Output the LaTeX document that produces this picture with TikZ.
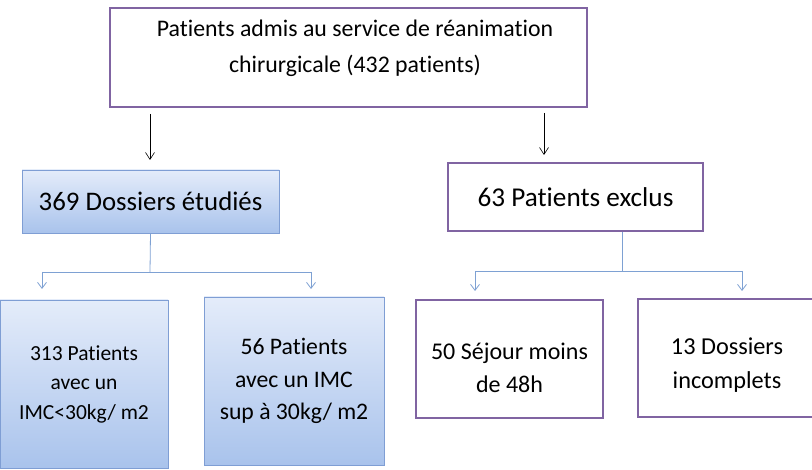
\documentclass[tikz,border=0pt]{standalone}
\usepackage{fontspec}
\setmainfont{Carlito}[Ligatures=NoCommon]
\usetikzlibrary{arrows.meta,shadows}
\definecolor{violetcadre}{HTML}{8064A2}
\definecolor{bleucadre}{HTML}{7F9ED4}
\definecolor{bleuhaut}{HTML}{E4ECFA}
\definecolor{bleubas}{HTML}{A9C3EC}
\definecolor{bleutrait}{HTML}{7EA1D3}
\tikzset{
  boiteviolette/.style={draw=violetcadre, line width=2.8pt, fill=white, align=center, inner sep=0pt},
  boitebleue/.style={draw=bleucadre, line width=0.8pt, top color=bleuhaut, bottom color=bleubas,
    align=center, inner sep=0pt,
    drop shadow={shadow xshift=0pt, shadow yshift=-1.5pt, opacity=.5, fill=black!70}},
  fleche/.style={-{Straight Barb[length=7pt,width=9pt]}, semithick},
  branche/.style={bleutrait, thick},
  flechebleue/.style={branche, -{Straight Barb[length=6pt,width=9pt]}}
}
\begin{document}
\begin{tikzpicture}[x=1pt,y=-1pt]
  \useasboundingbox[fill=white] (0,0) rectangle (812,470);

  % boite du haut
  \node[boiteviolette, minimum width=477pt, minimum height=99pt] (admis) at (348.5,57.5) {};
  \node[align=center, font=\fontsize{23.8}{36}\selectfont] (admistexte) at (355,48.5)
    {Patients admis au service de réanimation\\chirurgicale (432 patients)};

  % deuxieme niveau
  \node[boitebleue, minimum width=257pt, minimum height=63pt, font=\fontsize{26.8}{30}\selectfont]
    (etudies) at (150.5,201.5) {369 Dossiers étudiés};
  \node[boiteviolette, minimum width=255pt, minimum height=68pt, font=\fontsize{27.2}{30}\selectfont]
    (exclus) at (575.5,197) {63 Patients exclus};

  % troisieme niveau
  \node[boitebleue, minimum width=168pt, minimum height=168pt, font=\fontsize{21.5}{29.5}\selectfont]
    (imcbas) at (84,384) {313 Patients\\avec un\\IMC<30kg/ m2};
  \node[boitebleue, minimum width=180pt, minimum height=168pt, font=\fontsize{23.7}{32.5}\selectfont]
    (imchaut) at (294,381) {56 Patients\\avec un IMC\\sup à 30kg/ m2};
  \node[boiteviolette, minimum width=187pt, minimum height=118pt,
    label={[yshift=-9pt, align=center, font=\fontsize{24}{33}\selectfont]center:50 Séjour moins\\de 48h}]
    (sejour) at (509.5,359) {};
  \node[boiteviolette, minimum width=178pt, minimum height=118pt,
    label={[yshift=-7pt, align=center, font=\fontsize{24.3}{34}\selectfont]center:13 Dossiers\\incomplets}]
    (incomplets) at (727,358) {};

  % fleches noires
  \coordinate (a1) at (150,114);
  \coordinate (a2) at (150,160);
  \coordinate (b1) at (544,113);
  \coordinate (b2) at (544,155);
  \draw[fleche] (a1) -- (a2);
  \draw[fleche] (b1) -- (b2);

  % branches bleues
  \coordinate (g0) at (150,272);
  \coordinate (g1) at (42,272);
  \coordinate (g2) at (311,272);
  \coordinate (g3) at (42,289);
  \coordinate (g4) at (311,289);
  \draw[branche] (etudies.south) -- (g0);
  \draw[branche] (g1) -- (g2);
  \draw[flechebleue] (g1) -- (g3);
  \draw[flechebleue] (g2) -- (g4);

  \coordinate (d0) at (622,271);
  \coordinate (d1) at (475,271);
  \coordinate (d2) at (742,271);
  \coordinate (d3) at (475,291);
  \coordinate (d4) at (742,291);
  \draw[branche] (d0 |- exclus.south) -- (d0);
  \draw[branche] (d1) -- (d2);
  \draw[flechebleue] (d1) -- (d3);
  \draw[flechebleue] (d2) -- (d4);
\end{tikzpicture}
\end{document}
